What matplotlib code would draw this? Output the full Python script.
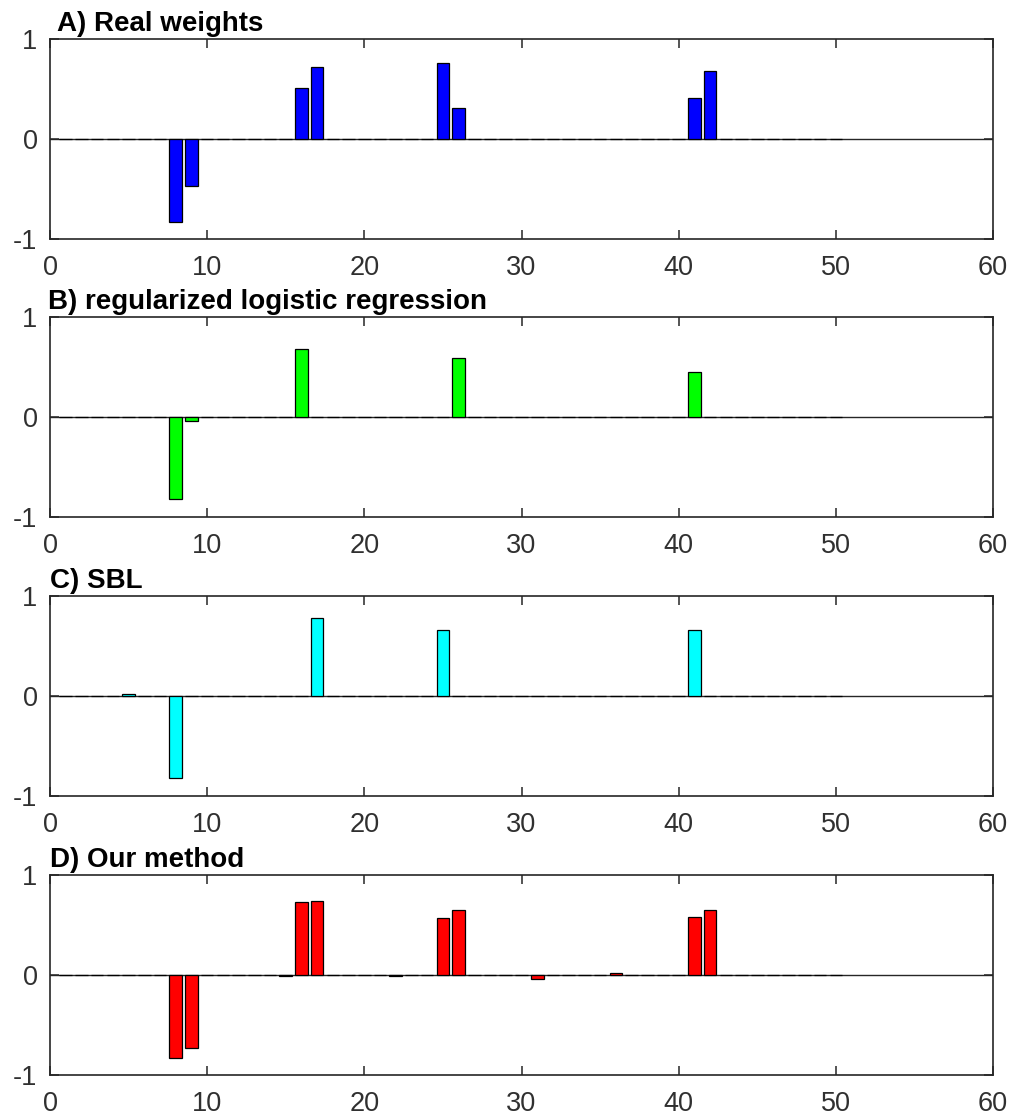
import numpy as np
import matplotlib
matplotlib.use("Agg")
import matplotlib.pyplot as plt

plt.rcParams['font.family'] = ['Liberation Sans', 'DejaVu Sans']
plt.rcParams['axes.unicode_minus'] = False

# ---- data ----
n_features = 50
titles = ["A) Real weights", "B) regularized logistic regression", "C) SBL", "D) Our method"]
colors = ["#0000ff", "#00ff00", "#00ffff", "#ff0000"]

real_idx = [8, 9, 16, 17, 25, 26, 41, 42]
real_val = [-0.83, -0.47, 0.51, 0.72, 0.76, 0.31, 0.41, 0.68]

lr_idx = [8, 9, 16, 26, 41]
lr_val = [-0.82, -0.04, 0.68, 0.59, 0.45]

sbl_idx = [5, 8, 17, 25, 41]
sbl_val = [0.02, -0.82, 0.78, 0.66, 0.66]

our_idx = [8, 9, 15, 16, 17, 22, 25, 26, 31, 36, 41, 42]
our_val = [-0.83, -0.73, -0.01, 0.73, 0.74, -0.01, 0.57, 0.65, -0.04, 0.02, 0.58, 0.65]

x_ticks = [0, 10, 20, 30, 40, 50, 60]
y_ticks = [-1, 0, 1]
y_tick_labels = ["-1", "0", "1"]

panels = [(real_idx, real_val), (lr_idx, lr_val), (sbl_idx, sbl_val), (our_idx, our_val)]

W, H = 1024, 1118
fig = plt.figure(figsize=(W / 100, H / 100), dpi=100)

# axes pixel boxes (top, bottom)
boxes = [(39, 239), (317, 517), (596, 796), (875, 1075)]
left_px, right_px = 50, 993
title_dx = [7, -2, 0, 0]

axis_col = "#262626"
for k, ((idx, val), (top, bot)) in enumerate(zip(panels, boxes)):
    ax = fig.add_axes([left_px / W, 1 - bot / H, (right_px - left_px) / W, (bot - top) / H])
    x = np.arange(1, n_features + 1)
    y = np.zeros(n_features)
    for i, v in zip(idx, val):
        y[i - 1] = v
    ax.axhline(0, color=axis_col, lw=1.0, zorder=1)
    ax.bar(x, y, width=0.8, color=colors[k], edgecolor="black", linewidth=0.9, zorder=2)
    ax.set_xlim(0, 60)
    ax.set_ylim(-1, 1)
    ax.set_xticks(x_ticks)
    ax.set_yticks(y_ticks)
    ax.set_yticklabels(y_tick_labels)
    ax.tick_params(direction="in", length=6.5, width=1.1, colors=axis_col,
                   labelsize=19.5, top=True, right=True, labelcolor="#303030")
    ax.tick_params(axis="x", pad=11.5)
    ax.tick_params(axis="y", pad=9)
    for s in ax.spines.values():
        s.set_color(axis_col)
        s.set_linewidth(1.2)
    ax.text(title_dx[k] / (right_px - left_px), 1.0 + 8 / (bot - top), titles[k],
            transform=ax.transAxes, ha="left", va="baseline",
            fontsize=20, fontweight="bold", color="black")

fig.savefig("out.png", dpi=100)
